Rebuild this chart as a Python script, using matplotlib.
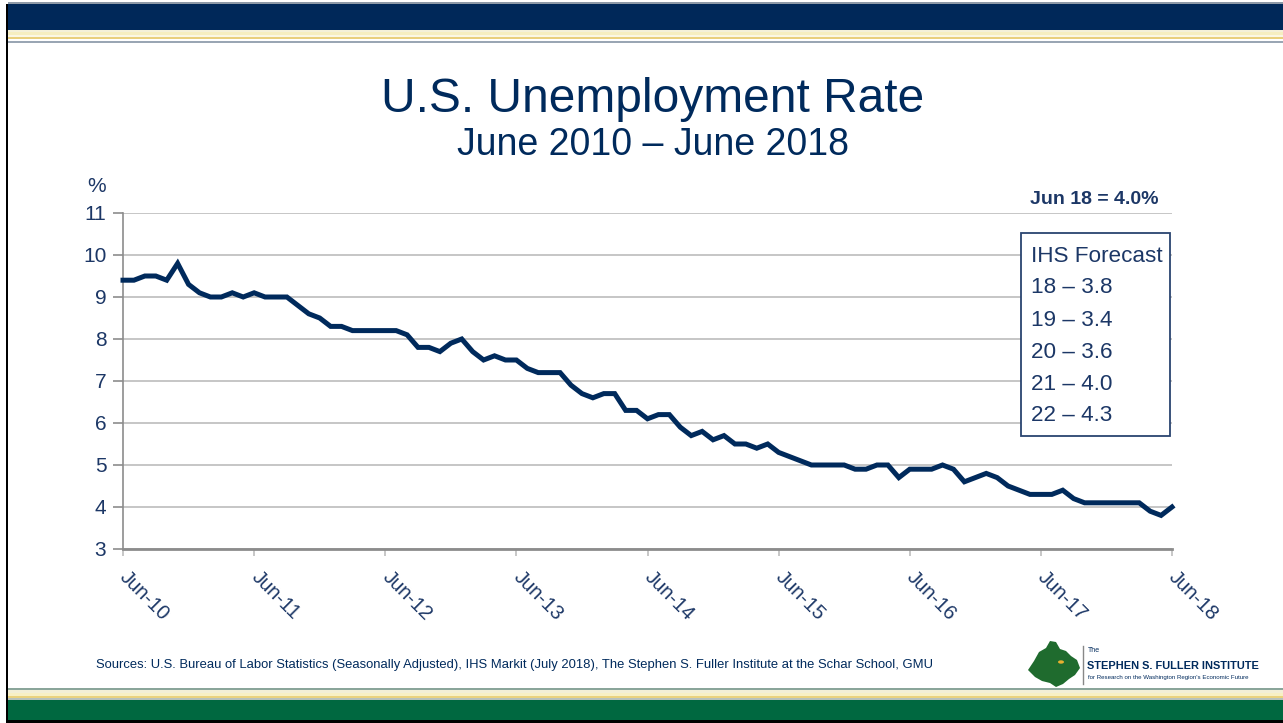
import matplotlib
matplotlib.use("Agg")
import matplotlib.pyplot as plt
from matplotlib.patches import Rectangle, Polygon, Circle
from matplotlib.lines import Line2D

plt.rcParams['font.family'] = ['Liberation Sans', 'DejaVu Sans']

# ---- data (monthly unemployment rate, Jun 2010 - Jun 2018) ----
rate_2010 = [9.4, 9.4, 9.5, 9.5, 9.4, 9.8, 9.3]                         # Jun-Dec
rate_2011 = [9.1, 9.0, 9.0, 9.1, 9.0, 9.1, 9.0, 9.0, 9.0, 8.8, 8.6, 8.5]
rate_2012 = [8.3, 8.3, 8.2, 8.2, 8.2, 8.2, 8.2, 8.1, 7.8, 7.8, 7.7, 7.9]
rate_2013 = [8.0, 7.7, 7.5, 7.6, 7.5, 7.5, 7.3, 7.2, 7.2, 7.2, 6.9, 6.7]
rate_2014 = [6.6, 6.7, 6.7, 6.3, 6.3, 6.1, 6.2, 6.2, 5.9, 5.7, 5.8, 5.6]
rate_2015 = [5.7, 5.5, 5.5, 5.4, 5.5, 5.3, 5.2, 5.1, 5.0, 5.0, 5.0, 5.0]
rate_2016 = [4.9, 4.9, 5.0, 5.0, 4.7, 4.9, 4.9, 4.9, 5.0, 4.9, 4.6, 4.7]
rate_2017 = [4.8, 4.7, 4.5, 4.4, 4.3, 4.3, 4.3, 4.4, 4.2, 4.1, 4.1, 4.1]
rate_2018 = [4.1, 4.1, 4.1, 3.9, 3.8, 4.0]                               # Jan-Jun
rates = rate_2010 + rate_2011 + rate_2012 + rate_2013 + rate_2014 + rate_2015 + rate_2016 + rate_2017 + rate_2018

x_tick_labels = ['Jun-10', 'Jun-11', 'Jun-12', 'Jun-13', 'Jun-14', 'Jun-15', 'Jun-16', 'Jun-17', 'Jun-18']
y_ticks = [3, 4, 5, 6, 7, 8, 9, 10, 11]
forecast_title = 'IHS Forecast'
forecast_years = ['18', '19', '20', '21', '22']
forecast_values = ['3.8', '3.4', '3.6', '4.0', '4.3']
latest_label = 'Jun 18 = 4.0%'

W, H = 1283, 723
fig = plt.figure(figsize=(W / 100, H / 100), dpi=100)
fig.patch.set_facecolor('white')

NAVY = '#002a5c'
TXT = '#1c3766'

def fx(px):
    return px / W

def fy(py):
    return 1 - py / H

# ---- decorative frame / bands ----
def hband(y0, y1, color, x0=8, x1=W):
    fig.patches.append(Rectangle((fx(x0), fy(y1)), fx(x1 - x0), (y1 - y0) / H,
                                 transform=fig.transFigure, facecolor=color,
                                 edgecolor='none', zorder=0))

hband(2, 4, '#8e9aa8')
hband(4, 30, '#002859')
hband(30, 32, '#f4f0d8')
hband(32, 35, '#f6eec0')
hband(35, 37, '#fbf7e4')
hband(37, 39, '#e9cf7c')
hband(39, 41, '#ffffff')
hband(41, 43, '#9aa6b4')
hband(688, 690, '#8aa59a')
hband(690, 693, '#f3efd6')
hband(693, 696, '#f8f0c4')
hband(696, 698, '#ead27e')
hband(698, 700, '#b8c2bc')
hband(700, 720, '#006840')
hband(720, 723, '#000000', x0=6)
hband(4, H, '#000000', x0=6, x1=8)

# ---- main axes ----
ax = fig.add_axes([fx(123), fy(549), fx(1172 - 123), (549 - 213) / H])
months = list(range(len(rates)))
ax.plot(months, rates, color=NAVY, lw=3.6, solid_joinstyle='miter', zorder=3, clip_on=False)
ax.set_xlim(0, 96)
ax.set_ylim(3, 11)
ax.set_yticks(y_ticks)
ax.set_yticklabels([str(v) for v in y_ticks], fontsize=15, color=TXT)
ax.set_xticks(list(range(0, 97, 12)))
ax.set_xticklabels(x_tick_labels, fontsize=14.5, color=TXT, rotation=-45,
                   ha='left', va='center', rotation_mode='anchor')
ax.tick_params(axis='y', length=7, width=1.2, color='#8c8c8c', pad=5)
ax.tick_params(axis='x', length=5, width=1.2, color='#bdbdbd', pad=13)
ax.grid(axis='y', color='#bcbcbc', lw=1.2, zorder=1)
ax.set_axisbelow(True)
for s in ['top', 'right']:
    ax.spines[s].set_visible(False)
ax.spines['left'].set_color('#8c8c8c')
ax.spines['left'].set_linewidth(1.2)
ax.spines['bottom'].set_color('#8c8c8c')
ax.spines['bottom'].set_linewidth(2)
ax.spines['bottom'].set_zorder(2)

# ---- titles ----
fig.text(fx(653), fy(100), 'U.S. Unemployment Rate', fontsize=34.5, color=NAVY, ha='center', va='center')
fig.text(fx(653), fy(145), 'June 2010 \u2013 June 2018', fontsize=27, color=NAVY, ha='center', va='center')
fig.text(fx(97), fy(187), '%', fontsize=15, color=TXT, ha='center', va='center')
fig.text(fx(1159), fy(199), latest_label, fontsize=14, fontweight='bold', color=TXT, ha='right', va='center')

# ---- forecast box ----
fig.patches.append(Rectangle((fx(1021), fy(436)), fx(1170 - 1021), (436 - 233) / H,
                             transform=fig.transFigure, facecolor='white',
                             edgecolor='#2a4470', lw=1.3, zorder=5))
lines = [forecast_title] + [f'{yr} \u2013 {v}' for yr, v in zip(forecast_years, forecast_values)]
for i, t in enumerate(lines):
    fig.text(fx(1031), fy(256 + 32 * i), t, fontsize=16.2, color=TXT, ha='left', va='center', zorder=6)

# ---- sources ----
fig.text(fx(96), fy(665),
         'Sources: U.S. Bureau of Labor Statistics (Seasonally Adjusted), IHS Markit (July 2018), '
         'The Stephen S. Fuller Institute at the Schar School, GMU',
         fontsize=9.4, color=NAVY, ha='left', va='center')

# ---- logo ----
logo_pts = [(1028, 670), (1034, 661), (1039, 652), (1046, 648), (1050, 641), (1056, 642),
            (1060, 649), (1066, 651), (1071, 656), (1077, 660), (1080, 668), (1075, 675),
            (1069, 679), (1063, 684), (1056, 687), (1050, 683), (1042, 681), (1035, 677)]
fig.patches.append(Polygon([(fx(a), fy(b)) for a, b in logo_pts], closed=True,
                           transform=fig.transFigure, facecolor='#1f6b2e', edgecolor='none', zorder=4))
fig.patches.append(Circle((fx(1061), fy(662)), 3 / W, transform=fig.transFigure,
                          facecolor='#e8b030', edgecolor='none', zorder=5))
fig.lines.append(Line2D([fx(1083), fx(1083)], [fy(646), fy(684)], transform=fig.transFigure,
                        color='#888888', lw=1))
fig.text(fx(1088), fy(651), 'The', fontsize=5, color=NAVY, ha='left', va='center')
fig.text(fx(1087), fy(666), 'STEPHEN S. FULLER INSTITUTE', fontsize=7.9, fontweight='bold', color=NAVY,
         ha='left', va='center')
fig.text(fx(1088), fy(678), "for Research on the Washington Region's Economic Future", fontsize=4.4,
         color=NAVY, ha='left', va='center')

fig.savefig('out.png', dpi=100)
